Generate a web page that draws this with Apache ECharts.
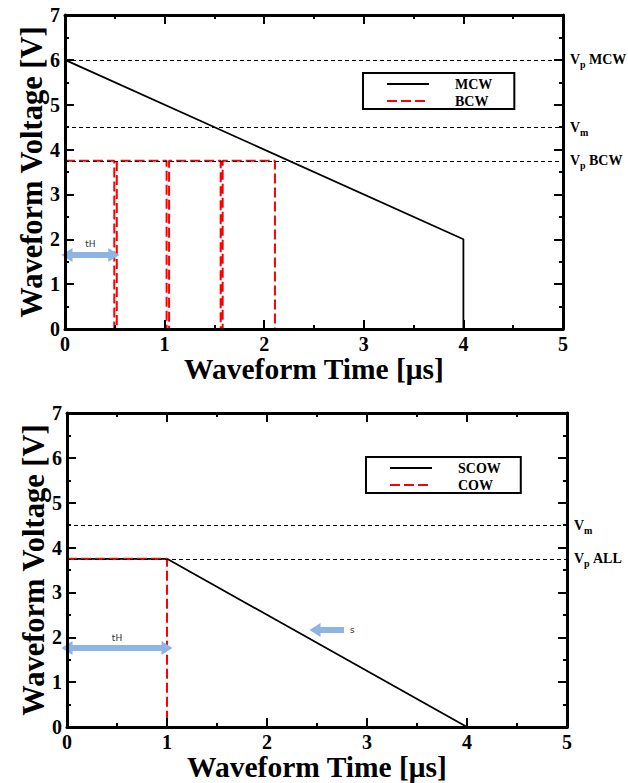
<!DOCTYPE html>
<html><head><meta charset="utf-8">
<script src="https://cdn.jsdelivr.net/npm/echarts@6/dist/echarts.min.js"></script>
<style>html,body{margin:0;padding:0;background:#fff}#c{width:628px;height:783px}</style>
</head><body><div id="c"></div>
<script>
// ---- data ----
const mcwTime = [0, 4, 4];
const mcwVolt = [6, 2, 0];
const bcwTime = [0, 0.495, 0.495, 0.52, 0.52, 1.02, 1.02, 1.045, 1.045, 1.563, 1.563, 1.583, 1.583, 2.108, 2.108];
const bcwVolt = [3.75, 3.75, 0, 0, 3.75, 3.75, 0, 0, 3.75, 3.75, 0, 0, 3.75, 3.75, 0];
const scowTime = [0, 1, 4];
const scowVolt = [3.75, 3.75, 0];
const cowTime = [0, 1, 1];
const cowVolt = [3.75, 3.75, 0];
const topRefLevels = [6, 4.5, 3.75];
const topRefLabels = ['{v|V}{s|p} {v|MCW}', '{v|V}{s|m}', '{v|V}{s|p} {v|BCW}'];
const botRefLevels = [4.5, 3.75];
const botRefLabels = ['{v|V}{s|m}', '{v|V}{s|p} {v|ALL}'];
const topArrow = {x0: 0.02, x1: 0.49, y: 1.65, text: 'tH'};
const botArrow = {x0: 0.0, x1: 1.0, y: 1.76, text: 'tH'};
const sArrow = {x0: 2.77, x1: 2.48, y: 2.16, text: 's'};
const xTicks = {min: 0, max: 5, interval: 1};
const yTicks = {min: 0, max: 7, interval: 1};

const zip = (a, b) => a.map((v, i) => [v, b[i]]);
const SERIF = "'Liberation Serif','Times New Roman',serif";
const BLUE = '#8db4e3';

const grids = [
  {left: 65, right: 65, top: 15, height: 314},
  {left: 67, right: 61, top: 413, height: 314}
];

function axis(dim, g, kind) {
  const isX = dim === 'x';
  const t = isX ? xTicks : yTicks;
  const a = {
    type: 'value', gridIndex: g, min: t.min, max: t.max, interval: t.interval, z: 20,
    splitLine: {show: false},
    axisLine: {show: true, onZero: false, lineStyle: {color: '#000', width: 3}},
    axisTick: {show: true, inside: true, length: 9, lineStyle: {color: '#000', width: 2}},
    minorTick: {show: true, splitNumber: 2, length: 4, lineStyle: {color: '#000', width: 2}},
    axisLabel: {show: kind === 'main', color: '#000', fontFamily: SERIF, fontWeight: 'bold', fontSize: 20, margin: 5}
  };
  if (kind === 'main') {
    a.position = isX ? 'bottom' : 'left';
    a.name = isX ? 'Waveform Time [\u03bcs]' : 'Waveform Voltage [V]';
    a.nameLocation = 'middle';
    a.nameMoveOverlap = false;
    a.nameGap = isX ? 25 : 18;
    if (!isX) a.nameRotate = 90;
    a.nameTextStyle = {color: '#000', fontFamily: SERIF, fontWeight: 'bold', fontSize: isX ? 29.5 : 30.5};
  } else {
    a.position = isX ? 'top' : 'right';
  }
  return a;
}

const rich = {
  v: {fontFamily: SERIF, fontWeight: 'bold', fontSize: 14, color: '#000', lineHeight: 20},
  s: {fontFamily: SERIF, fontWeight: 'bold', fontSize: 10, color: '#000', verticalAlign: 'bottom'}
};
function refLines(levels, labels) {
  return {
    silent: true, symbol: 'none', animation: false,
    lineStyle: {color: '#000', width: 1, type: [4, 3]},
    label: {show: true, position: 'end', distance: 7, rich: rich},
    data: levels.map((l, i) => ({yAxis: l, label: {formatter: labels[i]}}))
  };
}
function arrowLine(a, both, labelPos) {
  return [
    {coord: [a.x0, a.y], symbol: both ? 'triangle' : 'none', symbolSize: [14, 11]},
    {coord: [a.x1, a.y], symbol: 'triangle', symbolSize: [14, 11],
      lineStyle: {color: BLUE, width: 6, type: 'solid'},
      label: {show: true, formatter: a.text, position: labelPos, distance: 6, color: '#333', fontSize: 9, fontFamily: 'DejaVu Sans, sans-serif'}}
  ];
}
function helper(name, xi, yi, ml) {
  return {name: name, type: 'line', xAxisIndex: xi, yAxisIndex: yi, data: [], markLine: ml};
}
function arrowML(items) {
  return {silent: true, animation: false, lineStyle: {color: BLUE, width: 6, type: 'solid'}, itemStyle: {color: BLUE}, data: items};
}

const legendCommon = {
  orient: 'vertical', itemWidth: 42, itemHeight: 12, itemGap: 3,
  borderColor: '#000', borderWidth: 2, borderRadius: 0, backgroundColor: '#fff',
  itemStyle: {opacity: 0},
  textStyle: {color: '#000', fontFamily: SERIF, fontWeight: 'bold', fontSize: 14, lineHeight: 12, padding: [0, 0, 0, 21]},
  selectedMode: false
};

const option = {
  animation: false,
  backgroundColor: '#fff',
  grid: grids.map(g => ({left: g.left, right: g.right, top: g.top, height: g.height})),
  xAxis: [axis('x', 0, 'main'), axis('x', 0, 'mirror'), axis('x', 1, 'main'), axis('x', 1, 'mirror')],
  yAxis: [axis('y', 0, 'main'), axis('y', 0, 'mirror'), axis('y', 1, 'main'), axis('y', 1, 'mirror')],
  legend: [
    Object.assign({data: ['MCW', 'BCW'], left: 363, top: 73, padding: [4, 22, 1, 23]}, legendCommon),
    Object.assign({data: ['SCOW', 'COW'], left: 366, top: 457, padding: [4, 20, 1, 23]}, legendCommon)
  ],
  series: [
    helper('refTop', 0, 0, refLines(topRefLevels, topRefLabels)),
    helper('refBot', 2, 2, refLines(botRefLevels, botRefLabels)),
    {name: 'MCW', type: 'line', xAxisIndex: 0, yAxisIndex: 0, symbol: 'none', data: zip(mcwTime, mcwVolt),
      lineStyle: {color: '#000', width: 1.8}, itemStyle: {color: '#000'}},
    {name: 'BCW', type: 'line', xAxisIndex: 0, yAxisIndex: 0, symbol: 'none', data: zip(bcwTime, bcwVolt),
      lineStyle: {color: '#ff0000', width: 2, type: [10, 4]}, itemStyle: {color: '#ff0000'}},
    {name: 'SCOW', type: 'line', xAxisIndex: 2, yAxisIndex: 2, symbol: 'none', data: zip(scowTime, scowVolt),
      lineStyle: {color: '#000', width: 1.8}, itemStyle: {color: '#000'}},
    {name: 'COW', type: 'line', xAxisIndex: 2, yAxisIndex: 2, symbol: 'none', data: zip(cowTime, cowVolt),
      lineStyle: {color: '#ff0000', width: 2, type: [10, 4]}, itemStyle: {color: '#ff0000'}},
    helper('arrTop', 0, 0, arrowML([arrowLine(topArrow, true, 'insideMiddleTop')])),
    helper('arrBot', 2, 2, arrowML([arrowLine(botArrow, true, 'insideMiddleTop'), arrowLine(sArrow, false, 'start')]))
  ]
};
const chart = echarts.init(document.getElementById('c'), null, {renderer: 'svg'});
chart.setOption(option);
</script></body></html>
